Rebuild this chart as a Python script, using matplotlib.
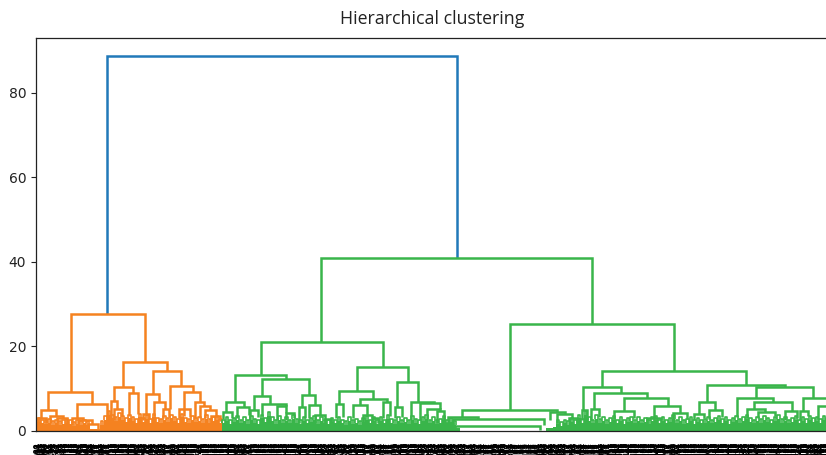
import matplotlib
matplotlib.use('Agg')
import matplotlib.pyplot as plt

# links: (left x, right x, top, left base, right base)
blue_links = [(107, 457, 88.7, 27.7, 40.9)]

orange_links = [
    (70.5, 145.5, 27.7, 9.3, 16.3),
    (47.7, 91.7, 9.3, 5.0, 6.4), (123, 166.7, 16.3, 10.3, 14.2),
    (40.7, 55.7, 5.0, 3.1, 3.6), (77.3, 106.7, 6.4, 3.0, 2.0),
    (37.7, 45.7, 3.1, 1.5, 2.0), (50, 63.3, 3.6, 2.0, 3.0),
    (56.7, 66.7, 3.0, 1.5, 1.8), (71.7, 83.3, 3.0, 1.5, 2.6),
    (78, 92, 2.6, 1.5, 1.6), (88, 98, 1.6, 0.5, 0.5),
    (114, 132.7, 10.3, 7.1, 9.0), (153.3, 181, 14.2, 8.8, 10.7),
    (111, 117.3, 7.1, 3.0, 5.2), (128.7, 137.7, 9.0, 3.5, 4.0),
    (114, 122, 5.2, 2.5, 3.6), (146, 159.3, 8.8, 4.0, 6.9),
    (154, 165.3, 6.9, 3.5, 5.2), (143, 149, 4.0, 2.5, 2.8),
    (170.3, 192.7, 10.7, 5.3, 9.2), (163, 169, 5.2, 3.0, 3.2),
    (179, 190, 5.3, 3.0, 3.4), (184, 200, 9.2, 3.5, 6.8),
    (195, 204, 6.8, 3.0, 5.8), (200, 210, 5.8, 3.0, 5.0),
    (205, 216, 5.0, 3.0, 3.6), (211, 220, 3.6, 1.5, 2.4),
]

green_links = [
    (321, 592, 40.9, 21.1, 25.3),
    (261, 383, 21.1, 13.2, 15.1), (510, 674, 25.3, 5.0, 14.2),
    (235, 286, 13.2, 6.9, 12.4), (262.3, 309, 12.4, 8.4, 8.5),
    (226, 244, 6.9, 4.6, 5.6), (254.3, 270, 8.4, 4.9, 6.4),
    (302.3, 315, 8.5, 5.6, 6.2), (222.7, 231.7, 4.6, 2.8, 3.0),
    (236.7, 249.3, 5.6, 3.0, 3.8), (250, 258, 4.9, 2.5, 3.4),
    (261.7, 286, 6.4, 3.6, 5.9), (277, 286, 5.9, 2.5, 4.2),
    (286, 294, 4.2, 2.5, 3.0), (299, 305, 5.6, 2.0, 3.0),
    (309.3, 320, 6.2, 3.0, 3.8), (315.3, 325, 3.8, 2.0, 2.8),
    (325, 331, 2.8, 1.0, 1.5),
    (356.7, 408.3, 15.1, 9.5, 11.7), (339.3, 373.3, 9.5, 6.5, 7.6),
    (397.3, 418.3, 11.7, 5.6, 6.9), (336, 342.7, 6.5, 3.0, 3.4),
    (360, 386.7, 7.6, 6.2, 6.9), (352.7, 367.3, 6.2, 3.0, 3.8),
    (363, 372, 3.8, 2.0, 3.0), (383.3, 390, 6.9, 3.0, 3.6),
    (372, 378, 3.0, 1.5, 2.0), (395, 401.7, 5.6, 3.0, 3.4),
    (411, 434, 6.9, 2.5, 6.6), (420, 440, 6.6, 2.5, 5.2),
    (426.7, 440, 5.2, 2.5, 4.7), (436.7, 444.3, 4.7, 2.0, 2.5),
    (461.7, 557.3, 5.0, 3.2, 4.6), (448.3, 477.7, 3.2, 1.8, 2.8),
    (444, 453, 1.8, 0.4, 0.4), (453, 544, 2.8, 1.3, 1.5),
    (455, 540, 1.3, 0.3, 0.3), (550, 565, 4.6, 2.5, 4.0),
    (557, 572, 4.0, 2.0, 3.0), (569, 577, 3.0, 1.0, 1.5),
    (602, 746, 14.2, 10.5, 10.9), (581.7, 587.3, 5.0, 2.5, 2.5),
    (583.3, 620.7, 10.5, 5.0, 9.1), (594.3, 646.7, 9.1, 5.2, 7.7),
    (590.7, 599.3, 5.2, 2.5, 3.4), (624.3, 667.7, 7.7, 4.8, 5.9),
    (614, 634, 4.8, 2.8, 3.0), (654, 680, 5.9, 3.0, 4.2),
    (647, 661, 3.0, 1.5, 2.5), (673, 686.7, 4.2, 2.0, 2.8),
    (706.7, 785, 10.9, 6.9, 10.5), (755.7, 812.7, 10.5, 7.7, 7.7),
    (699, 715, 6.9, 4.0, 5.0), (694, 704, 4.0, 2.5, 3.0),
    (709, 722, 5.0, 2.8, 3.4), (736.7, 773.3, 7.7, 3.4, 6.9),
    (754, 791.7, 6.9, 5.2, 4.8), (747, 765, 5.2, 3.0, 4.6),
    (758, 775, 4.6, 3.0, 3.6), (785, 797, 4.8, 2.6, 3.0),
    (802.7, 830, 7.7, 4.8, 6.0), (800, 808, 4.8, 2.5, 3.6),
    (818, 830, 6.0, 2.8, 4.6),
]

# height of the solid fringe along the bottom, one reading every fringe_step
fringe_step = 3.5
orange_start = 37
orange_fringe = [
    2.2, 1.8, 1.6, 2.0, 1.5, 1.8, 1.4, 1.6, 2.0, 1.6, 1.3, 1.7, 1.5, 1.8, 1.5,
    0.4, 0.4, 0.4, 1.5, 2.6, 3.8, 3.0, 2.4, 3.4, 2.6,
    2.2, 3.0, 2.4, 2.0, 3.2, 2.2, 2.8, 2.0, 3.2, 2.2, 2.0, 2.6, 2.2, 3.0, 2.4,
    2.0, 3.2, 2.2, 2.0, 2.6, 2.2, 2.4, 1.9, 2.8, 2.0, 2.3, 2.6, 2.0,
]
green_start = 222
green_fringe = [
    1.8, 2.3, 1.7, 2.1, 2.6, 1.8, 2.3, 1.6, 2.6, 2.0, 1.7, 3.0, 2.2, 3.6, 2.3,
    1.7, 2.6, 1.8, 2.4, 1.8, 2.8, 2.0, 1.6, 2.4, 1.8, 2.1, 2.6, 1.7, 2.3, 1.8,
    1.6, 2.1, 1.8, 2.4, 1.8, 1.5, 2.3, 1.7, 2.0, 1.5, 2.1, 2.6, 1.8, 2.4, 1.7,
    2.3, 1.8, 2.8, 2.0, 1.6, 2.4, 1.8, 2.1, 1.7, 2.6, 2.0, 1.6, 2.3, 2.8, 1.8,
    2.4, 1.7, 2.0, 2.6, 1.8, 2.2, 1.5, 0.8,
]
green2_start = 546
green2_fringe = [
    0.8, 0.8, 1.0, 1.6, 1.2, 1.8, 1.5, 2.1, 1.7, 3.0, 2.0, 3.8, 2.3, 1.8, 2.8,
    2.0, 2.4, 1.7, 2.1, 2.6, 1.8, 2.3, 1.7, 2.1, 2.4, 1.8, 2.3, 1.8, 2.1, 1.7,
    2.3, 2.6, 1.8, 2.4, 1.8, 2.1, 2.8, 1.8, 2.3, 1.7, 2.0, 2.4, 1.7, 2.1, 1.8,
    2.0, 2.4, 1.8, 2.1, 2.6, 2.0, 2.3, 1.7, 2.1, 2.6, 2.0, 2.4, 2.8, 2.1, 1.8,
    2.4, 2.0, 2.6, 2.1, 1.8, 2.3, 2.8, 2.0, 2.4, 1.8, 2.1, 2.6, 1.8, 2.3, 2.0,
    2.6, 2.1, 2.4, 2.0, 2.6, 2.1, 2.3,
]

yticks = [0, 20, 40, 60, 80]
leaf_labels = [str(1000 + i * 7) for i in range(800)]

blue = '#2179b9'
orange = '#f58220'
green = '#39b54a'
lw = 1.8


def draw_links(ax, links, color):
    for x0, x1, top, b0, b1 in links:
        ax.plot([x0, x0, x1, x1], [b0, top, top, b1], color=color, lw=lw,
                solid_joinstyle='miter', solid_capstyle='butt')


def draw_fringe(ax, start, heights, color):
    for i, h in enumerate(heights):
        x = start + i * fringe_step
        ax.bar(x + fringe_step / 2, h, width=fringe_step, bottom=0, color=color, lw=0)
        if h > 1:  # small link sticking out of the solid part
            ax.plot([x + 0.5, x + 0.5, x + 3, x + 3], [h, h + 0.9, h + 0.9, h], color=color, lw=1.2,
                    solid_capstyle='butt')


fig = plt.figure(figsize=(8.26, 4.55), dpi=100)
ax = fig.add_axes([36 / 826, 24 / 455, 800 / 826, 393 / 455])

draw_links(ax, blue_links, blue)
draw_links(ax, orange_links, orange)
draw_links(ax, green_links, green)
draw_fringe(ax, orange_start, orange_fringe, orange)
draw_fringe(ax, green_start, green_fringe, green)
draw_fringe(ax, green2_start, green2_fringe, green)

ax.set_xlim(36, 836)
ax.set_ylim(0, 93)
ax.set_yticks(yticks)
ax.tick_params(axis='y', labelsize=10, colors='#222222')
ax.set_xticks([36.5 + i for i in range(len(leaf_labels))])
ax.set_xticklabels(leaf_labels, rotation=90, fontsize=5, fontweight='bold', color='black')
ax.tick_params(axis='x', length=0, pad=8)
for s in ax.spines.values():
    s.set_color('#222222')
    s.set_linewidth(0.9)

fig.text(432 / 826, 1 - 19 / 455, 'Hierarchical clustering', family='Open Sans',
         fontsize=12.8, ha='center', va='center', color='#222222')

fig.savefig('out.png', dpi=100)
